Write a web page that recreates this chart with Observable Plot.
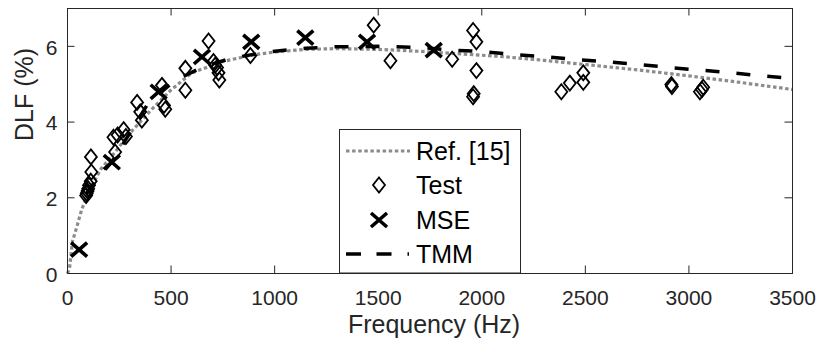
<!DOCTYPE html>
<html>
<head>
<meta charset="utf-8">
<script src="https://cdn.jsdelivr.net/npm/d3@7"></script>
<script src="https://cdn.jsdelivr.net/npm/@observablehq/plot@0.6"></script>
<style>
  body { margin: 0; background: #fff; }
  #wrap { position: relative; width: 820px; height: 349px; font-family: "Liberation Sans", Arial, sans-serif; }
  #legend { position: absolute; left: 0; top: 0; pointer-events: none; }
</style>
</head>
<body>
<div id="wrap"></div>
<script>
// ---- data ----
const xTicks = [0, 500, 1000, 1500, 2000, 2500, 3000, 3500];
const yTicks = [0, 2, 4, 6];

const refFreq = [0, 10, 24, 45, 57, 70, 86, 120, 160, 214, 300, 400, 500, 600, 750, 900, 1000, 1150, 1300, 1500, 1700, 1900, 2100, 2300, 2500, 2750, 3000, 3230, 3500];
const refDLF  = [0, 0.15, 0.85, 1.23, 1.47, 1.71, 1.93, 2.35, 2.75, 3.1, 3.7, 4.3, 4.85, 5.3, 5.6, 5.78, 5.85, 5.92, 5.94, 5.92, 5.87, 5.8, 5.73, 5.63, 5.52, 5.38, 5.22, 5.06, 4.86];

const tmmFreq = [90, 150, 214, 300, 390, 432, 520, 650, 786, 963, 1150, 1300, 1500, 1700, 1860, 2009, 2160, 2323, 2461, 2606, 2759, 2912, 3057, 3210, 3354, 3500];
const tmmDLF  = [2.1, 2.55, 2.95, 3.7, 4.5, 4.7, 5.1, 5.45, 5.68, 5.85, 5.95, 5.99, 6.0, 5.97, 5.9, 5.86, 5.78, 5.72, 5.65, 5.59, 5.52, 5.44, 5.37, 5.3, 5.22, 5.15];

const testFreq = [90, 93, 97, 100, 104, 112, 115, 113, 222, 230, 242, 271, 282, 336, 351, 359, 456, 466, 472, 569, 569, 681, 705, 713, 722, 729, 733, 883, 1478, 1559, 1857, 1958, 1974, 1974, 1961, 1958, 2384, 2425, 2490, 2490, 2915, 2918, 3053, 3063, 3069];
const testDLF  = [2.06, 2.12, 2.18, 2.24, 2.33, 2.44, 2.68, 3.08, 3.6, 3.21, 3.66, 3.8, 3.62, 4.52, 4.27, 4.05, 4.97, 4.44, 4.34, 5.42, 4.84, 6.14, 5.6, 5.5, 5.44, 5.3, 5.11, 5.76, 6.56, 5.62, 5.66, 6.42, 6.12, 5.36, 4.75, 4.67, 4.8, 5.03, 5.3, 5.05, 4.99, 4.94, 4.8, 4.86, 4.92];

const mseFreq = [56, 214, 440, 649, 887, 1148, 1446, 1768];
const mseDLF  = [0.63, 2.94, 4.8, 5.72, 6.12, 6.23, 6.12, 5.9];

const legendLabels = ["Ref. [15]", "Test", "MSE", "TMM"];

// ---- build tables ----
const ref = refFreq.map((f, i) => ({f, v: refDLF[i]}));
const tmm = tmmFreq.map((f, i) => ({f, v: tmmDLF[i]}));
const test = testFreq.map((f, i) => ({f, v: testDLF[i]}));
const mse = mseFreq.map((f, i) => ({f, v: mseDLF[i]}));

const diamondSym = {draw(ctx, size) {
  const r = Math.sqrt(size / Math.PI), w = r * 0.8;
  ctx.moveTo(0, -r); ctx.lineTo(w, 0); ctx.lineTo(0, r); ctx.lineTo(-w, 0); ctx.closePath();
}};
const crossSym = {draw(ctx, size) {
  const r = Math.sqrt(size / Math.PI), h = r * 0.88;
  ctx.moveTo(-r, -h); ctx.lineTo(r, h); ctx.moveTo(-r, h); ctx.lineTo(r, -h);
}};

const axisColor = "#262626";
const W = 820, H = 349, mL = 67, mR = 28, mT = 8, mB = 76;
const plotH = H - mT - mB;
const tickLen = 7.5;
const fmt = d3.format("d");

const chart = Plot.plot({
  width: W, height: H,
  marginLeft: mL, marginRight: mR, marginTop: mT, marginBottom: mB,
  style: {fontFamily: "'Liberation Sans', Arial, sans-serif", color: axisColor, background: "#fff"},
  x: {domain: [0, 3500]},
  y: {domain: [0, 7]},
  marks: [
    Plot.line(ref, {x: "f", y: "v", stroke: "#8c8c8c", strokeWidth: 3.2, strokeDasharray: "3.5,2.6", strokeLinecap: "butt"}),
    Plot.line(tmm, {x: "f", y: "v", stroke: "#000", strokeWidth: 3.5, strokeDasharray: "14,17", strokeLinecap: "butt"}),
    Plot.dot(test, {x: "f", y: "v", symbol: diamondSym, r: 7.5, stroke: "#000", strokeWidth: 1.8, fill: "none"}),
    Plot.dot(mse, {x: "f", y: "v", symbol: crossSym, r: 8, stroke: "#000", strokeWidth: 3.6, fill: "none"}),
    // inward ticks (bottom / top / left / right)
    Plot.ruleX(xTicks.slice(1, -1), {x: d => d, insetTop: plotH - tickLen, stroke: axisColor}),
    Plot.ruleX(xTicks.slice(1, -1), {x: d => d, insetBottom: plotH - tickLen, stroke: axisColor}),
    Plot.ruleY(yTicks.slice(1), {y: d => d, insetRight: (W - mL - mR) - tickLen, stroke: axisColor}),
    Plot.ruleY(yTicks.slice(1), {y: d => d, insetLeft: (W - mL - mR) - tickLen, stroke: axisColor}),
    Plot.frame({stroke: axisColor, strokeWidth: 1}),
    Plot.axisX(xTicks, {tickSize: 0, tickPadding: 17, fontSize: 21, fill: axisColor, label: null, tickFormat: fmt}),
    Plot.axisY(yTicks, {tickSize: 0, tickPadding: 10, fontSize: 21, fill: axisColor, label: null, dy: 1.5, tickFormat: fmt}),
    Plot.text(["Frequency (Hz)"], {frameAnchor: "bottom", dy: 59, text: d => d, fontSize: 25, fill: axisColor, dx: 4}),
    Plot.text(["DLF (%)"], {frameAnchor: "left", dx: -43, rotate: -90, text: d => d, fontSize: 25, fill: axisColor})
  ]
});
document.getElementById("wrap").appendChild(chart);

// ---- legend (overlay, real text) ----
const ns = "http://www.w3.org/2000/svg";
const lg = document.createElementNS(ns, "svg");
lg.setAttribute("id", "legend");
lg.setAttribute("width", W); lg.setAttribute("height", H);
const bx = 339.5, by = 129.5, bw = 181, bh = 143.5;
const rows = [151, 185, 220, 254];
const textX = 416;
let html = `<rect x="${bx}" y="${by}" width="${bw}" height="${bh}" fill="#fff" stroke="${axisColor}" stroke-width="1"/>`;
html += `<line x1="346" x2="410" y1="${rows[0]}" y2="${rows[0]}" stroke="#8c8c8c" stroke-width="3.2" stroke-dasharray="3.5,2.6"/>`;
html += `<path d="M379,${rows[1]-7.5}L385,${rows[1]}L379,${rows[1]+7.5}L373,${rows[1]}Z" fill="none" stroke="#000" stroke-width="1.8"/>`;
html += `<path d="M371,${rows[2]-7}L387,${rows[2]+7}M371,${rows[2]+7}L387,${rows[2]-7}" fill="none" stroke="#000" stroke-width="3.6"/>`;
html += `<line x1="346" x2="411" y1="${rows[3]}" y2="${rows[3]}" stroke="#000" stroke-width="3.5" stroke-dasharray="15,15.5,15,16,1.5,60"/>`;
legendLabels.forEach((t, i) => {
  html += `<text x="${textX}" y="${rows[i]}" dy="0.36em" font-size="25" fill="#000" font-family="'Liberation Sans', Arial, sans-serif">${t}</text>`;
});
lg.innerHTML = html;
document.getElementById("wrap").appendChild(lg);
</script>
</body>
</html>
